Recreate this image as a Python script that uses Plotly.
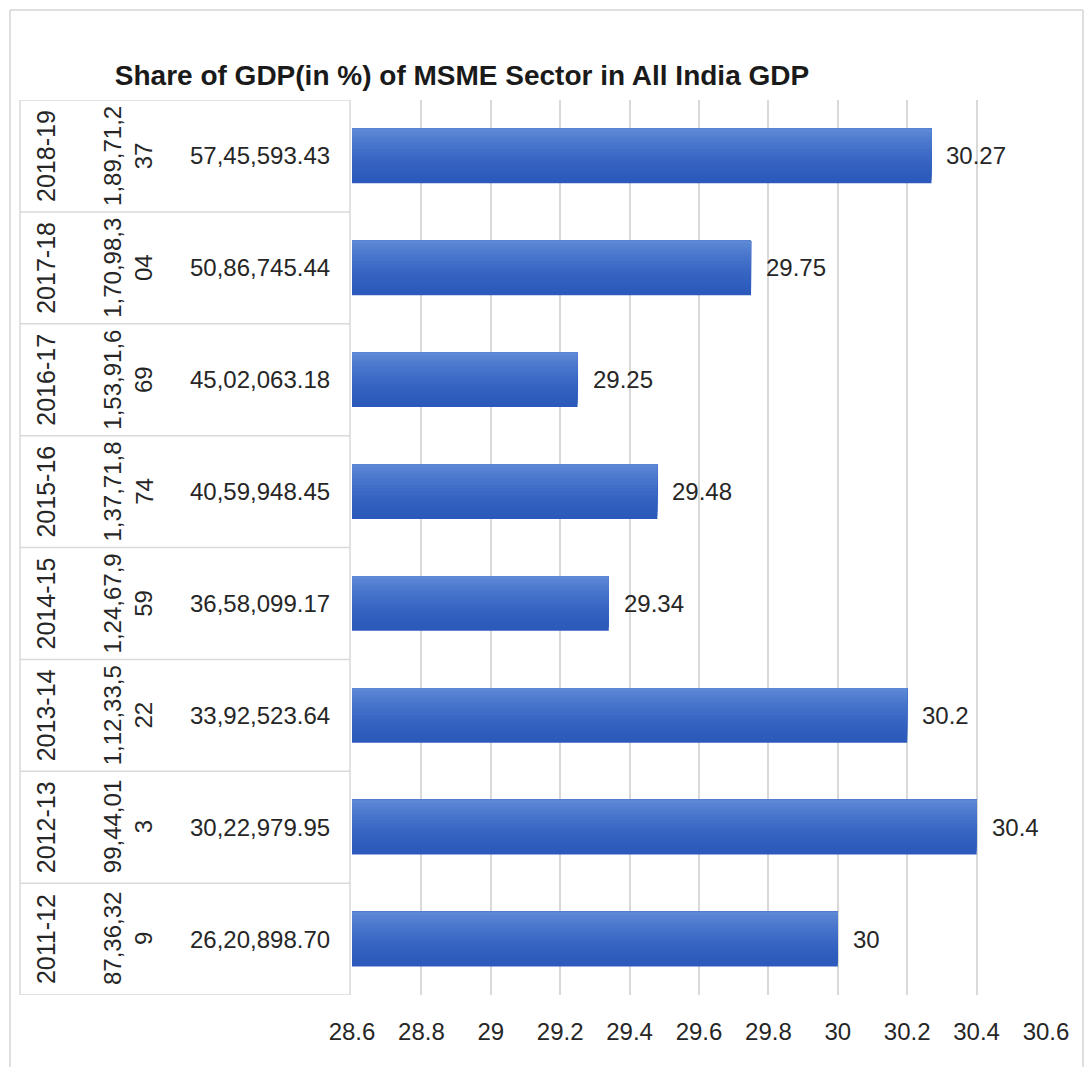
import plotly.graph_objects as go

# ---------------- data ----------------
years = ["2011-12", "2012-13", "2013-14", "2014-15", "2015-16", "2016-17", "2017-18", "2018-19"]
total_gva = ["87,36,32<br>9", "99,44,01<br>3", "1,12,33,5<br>22", "1,24,67,9<br>59",
             "1,37,71,8<br>74", "1,53,91,6<br>69", "1,70,98,3<br>04", "1,89,71,2<br>37"]
msme_gva = ["26,20,898.70", "30,22,979.95", "33,92,523.64", "36,58,099.17",
            "40,59,948.45", "45,02,063.18", "50,86,745.44", "57,45,593.43"]
share = [30, 30.4, 30.2, 29.34, 29.48, 29.25, 29.75, 30.27]
x_ticks = [28.6, 28.8, 29, 29.2, 29.4, 29.6, 29.8, 30, 30.2, 30.4, 30.6]
title = "Share of GDP(in %) of MSME Sector in All India GDP"

# ---------------- layout helpers ----------------
FW, FH = 1076, 1059           # figure size (page body has 8px margin)
ML, MR, MT, MB = 344, 38, 92, 72
PW = FW - ML - MR
PH = FH - MT - MB


def xpaper(px):               # page pixel -> paper x
    return (px - 8 - ML) / PW


def ypaper(py):               # page pixel -> paper y
    return (FH - MB - (py - 8)) / PH


FONT = "Liberation Sans, Arial, sans-serif"
TXT = "#262626"
LINE = "#D9D9D9"

fig = go.Figure()

# bars drawn as overlay layers to mimic a soft vertical gradient (dark bottom -> light top)
BW = 0.49
dark = (44, 90, 188)
light = (92, 136, 214)
NL = 16
for k in range(NL):
    frac = 1.0 - k / NL
    t = (k / (NL - 1)) ** 1.6
    col = "rgb(%d,%d,%d)" % tuple(round(d + (l - d) * t) for d, l in zip(dark, light))
    w = BW * frac
    fig.add_trace(go.Bar(
        x=share, y=years, orientation="h",
        width=[w] * len(years), offset=[BW / 2 - w] * len(years),
        marker=dict(color=col, line=dict(width=0)),
        hoverinfo="skip", showlegend=False,
    ))

annotations = []
# data labels
for yv, v in zip(years, share):
    annotations.append(dict(x=v, y=yv, xref="x", yref="y", text=f"{v:g}",
                            xanchor="left", xshift=13, showarrow=False,
                            font=dict(family=FONT, size=24, color=TXT)))
# category table
for yv, tg, mg in zip(years, total_gva, msme_gva):
    annotations.append(dict(x=xpaper(46), y=yv, xref="paper", yref="y", text=yv,
                            textangle=-90, showarrow=False, xanchor="center", yanchor="middle",
                            font=dict(family=FONT, size=25, color=TXT)))
    annotations.append(dict(x=xpaper(128), y=yv, xref="paper", yref="y", text=tg,
                            textangle=-90, showarrow=False, align="center",
                            xanchor="center", yanchor="middle",
                            font=dict(family=FONT, size=24, color=TXT)))
    annotations.append(dict(x=xpaper(260), y=yv, xref="paper", yref="y", text=mg,
                            showarrow=False, xanchor="center", yanchor="middle",
                            font=dict(family=FONT, size=24, color=TXT)))

shapes = []
n = len(years)
for i in range(n + 1):
    shapes.append(dict(type="line", xref="paper", yref="y",
                       x0=xpaper(20), x1=xpaper(350), y0=i - 0.5, y1=i - 0.5,
                       line=dict(color=LINE, width=1.5)))
for xx in (20, 350):
    shapes.append(dict(type="line", xref="paper", yref="y",
                       x0=xpaper(xx), x1=xpaper(xx), y0=-0.5, y1=n - 0.5,
                       line=dict(color=LINE, width=1.5)))
# outer chart frame
for (x0, y0, x1, y1) in [(10, 10, 1083, 10), (10, 10, 10, 1080), (1083, 10, 1083, 1080)]:
    shapes.append(dict(type="line", xref="paper", yref="paper",
                       x0=xpaper(x0), x1=xpaper(x1), y0=ypaper(y0), y1=ypaper(y1),
                       line=dict(color="#D4D4D4", width=1.5)))

fig.update_layout(
    width=FW, height=FH,
    margin=dict(l=ML, r=MR, t=MT, b=MB, pad=0),
    paper_bgcolor="white", plot_bgcolor="white",
    barmode="overlay",
    title=dict(text=f"<b>{title}</b>", x=xpaper(462), xref="paper", xanchor="center",
               y=1 - 67 / FH, yref="container", yanchor="middle",
               font=dict(family=FONT, size=28, color="#1A1A1A")),
    xaxis=dict(range=[28.6, 30.6], tickvals=x_ticks, ticktext=[f"{t:g}" for t in x_ticks],
               showgrid=True, gridcolor=LINE, gridwidth=1.5, zeroline=False,
               showline=False, ticks="outside", ticklen=15, tickcolor="rgba(0,0,0,0)",
               tickfont=dict(family=FONT, size=24, color=TXT), fixedrange=True),
    yaxis=dict(type="category", categoryorder="array", categoryarray=years,
               showticklabels=False, showgrid=False, zeroline=False, showline=False,
               range=[-0.5, n - 0.5], fixedrange=True),
    annotations=annotations, shapes=shapes,
    showlegend=False,
)

fig.write_html("out.html")
